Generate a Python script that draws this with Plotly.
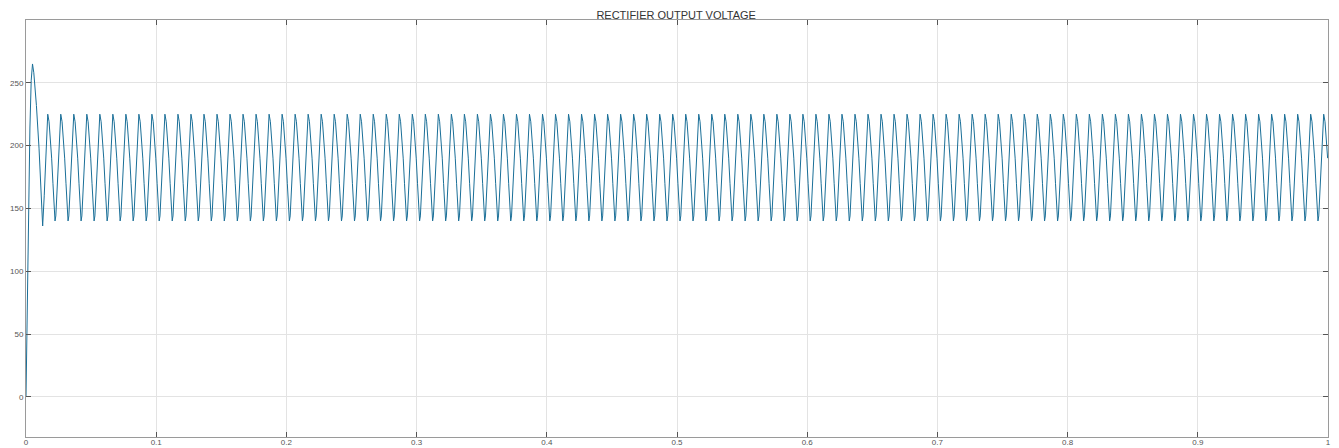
import plotly.graph_objects as go

# ---- data ----
title_text = "RECTIFIER OUTPUT VOLTAGE"
x_ticks = [0, 0.1, 0.2, 0.3, 0.4, 0.5, 0.6, 0.7, 0.8, 0.9, 1]
x_tick_labels = ["0", "0.1", "0.2", "0.3", "0.4", "0.5", "0.6", "0.7", "0.8", "0.9", "1"]
y_ticks = [0, 50, 100, 150, 200, 250]
y_tick_labels = ["0", "50", "100", "150", "200", "250"]

# start-up transient (time in s, volts)
startup_t = [0.0, 0.001, 0.002, 0.003, 0.004, 0.005, 0.006, 0.008, 0.010, 0.012, 0.0128, 0.014, 0.0155, 0.0167]
startup_v = [0.0, 82, 156, 214, 252, 265, 258, 232, 198, 158, 136, 160, 200, 225]

# one steady-state ripple cycle (offset in ms after a peak, volts)
cycle_offset_ms = [1, 2, 3, 4, 5, 5.6, 6.2, 7, 8, 9, 10]
cycle_v = [219, 207, 190, 170, 150, 140, 144, 161, 190, 214, 225]
ripple_period_s = 0.01
cycle_count = 99
t_end = 1.0

# ---- build the trace from the read values ----
t_vals = list(startup_t)
v_vals = list(startup_v)
base = startup_t[-1]
for k in range(cycle_count):
    for off, v in zip(cycle_offset_ms, cycle_v):
        tt = base + off / 1000.0
        if tt <= t_end + 1e-9:
            t_vals.append(tt)
            v_vals.append(v)
    base += ripple_period_s

fig = go.Figure()
fig.add_trace(go.Scatter(
    x=t_vals, y=v_vals, mode="lines",
    line=dict(color="#1a6f98", width=1),
    showlegend=False, hoverinfo="skip",
))

axis_common = dict(
    showgrid=True, gridcolor="#e3e3e3", gridwidth=1,
    showline=True, linecolor="#9a9a9a", linewidth=1, mirror="ticks",
    ticks="inside", ticklen=5, tickcolor="#555555", tickwidth=1,
    zeroline=False, automargin=False,
    tickfont=dict(family="Liberation Sans, Arial, sans-serif", size=8, color="#555555"),
)

# the page adds an 8 px body margin, so the figure is sized to fit the window
fig.update_layout(
    width=1331, height=440,
    paper_bgcolor="white", plot_bgcolor="white",
    margin=dict(l=18, r=11, t=12, b=11, autoexpand=False),
    title=dict(text=title_text, x=0.502, xanchor="center", y=0.984, yanchor="middle",
               font=dict(family="Liberation Sans, Arial, sans-serif", size=11, color="#333333")),
    xaxis=dict(range=[0, 1], tickvals=x_ticks, ticktext=x_tick_labels,
               ticklabelstandoff=-3, **axis_common),
    yaxis=dict(range=[-32, 300], tickvals=y_ticks, ticktext=y_tick_labels, **axis_common),
)

fig.write_html("out.html")
